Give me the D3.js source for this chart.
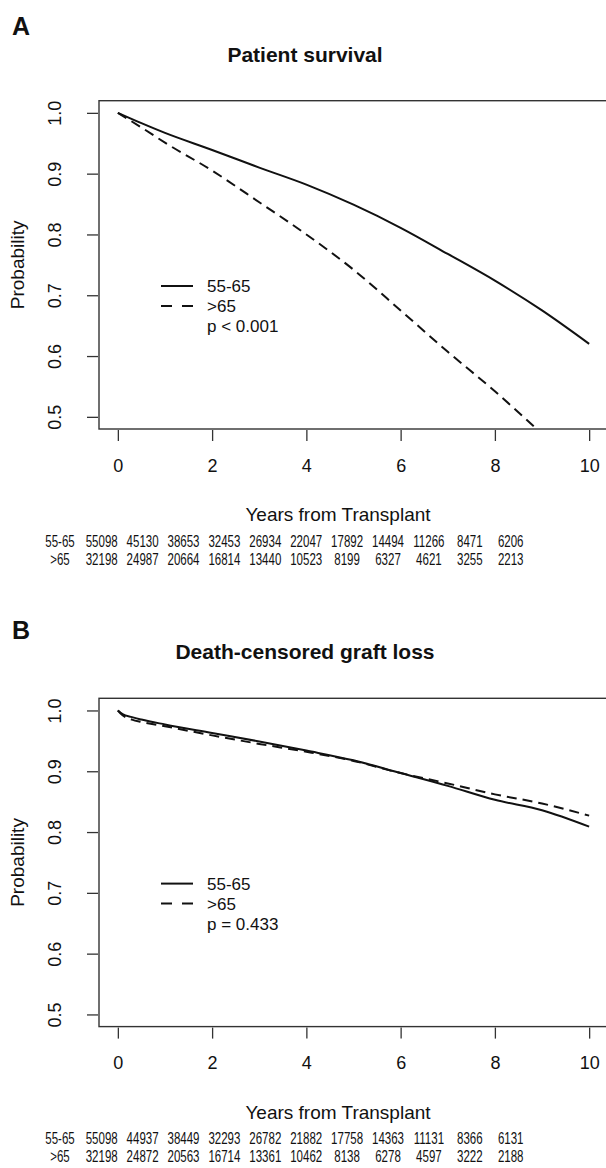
<!DOCTYPE html>
<html>
<head>
<meta charset="utf-8">
<script src="https://cdn.jsdelivr.net/npm/d3@7"></script>
<style>
  body { margin: 0; background: #fff; }
  svg { display: block; font-family: "Liberation Sans", Arial, sans-serif; }
</style>
</head>
<body>
<svg width="606" height="1168"></svg>
<script>
// ---- data ----
const groups = ["55-65", ">65"];
const xTicks = [0, 2, 4, 6, 8, 10];
const yTicks = [0.5, 0.6, 0.7, 0.8, 0.9, 1.0];

// panel A: patient survival
const survTimeYoung = [0, 0.5, 1, 2, 3, 4, 5, 6, 7, 8, 9, 10];
const survYoung     = [1.0, 0.983, 0.967, 0.939, 0.910, 0.882, 0.849, 0.811, 0.768, 0.724, 0.675, 0.620];
const survTimeOld   = [0, 0.5, 1, 2, 3, 4, 5, 6, 7, 8, 9];
const survOld       = [1.0, 0.976, 0.951, 0.905, 0.853, 0.800, 0.742, 0.675, 0.607, 0.542, 0.472];
const riskSurvYoung = [55098, 45130, 38653, 32453, 26934, 22047, 17892, 14494, 11266, 8471, 6206];
const riskSurvOld   = [32198, 24987, 20664, 16814, 13440, 10523, 8199, 6327, 4621, 3255, 2213];

// panel B: death-censored graft loss
const graftTime     = [0, 0.1, 0.3, 0.5, 1, 2, 3, 4, 5, 6, 7, 8, 9, 10];
const graftYoung    = [1.0, 0.994, 0.989, 0.985, 0.977, 0.963, 0.949, 0.934, 0.918, 0.897, 0.876, 0.853, 0.836, 0.809];
const graftOld      = [1.0, 0.992, 0.985, 0.981, 0.974, 0.959, 0.945, 0.932, 0.917, 0.897, 0.880, 0.862, 0.847, 0.827];
const riskGraftYoung = [55098, 44937, 38449, 32293, 26782, 21882, 17758, 14363, 11131, 8366, 6131];
const riskGraftOld   = [32198, 24872, 20563, 16714, 13361, 10462, 8138, 6278, 4597, 3222, 2188];

const svg = d3.select("svg");
const ink = "#111";

const x = d3.scaleLinear().domain([-0.4, 10.4]).range([99, 608]);
const col = d3.scalePoint().domain(d3.range(11)).range([101.7, 510.7]);

function drawPanel(opt) {
  const g = svg.append("g").attr("transform", `translate(0,${opt.dy})`);
  const y = d3.scaleLinear().domain([0.48, 1.02]).range([429, 100.7]);

  // panel letter + title
  g.append("text").attr("x", 12).attr("y", opt.letterY)
    .style("font-size", "25px").style("font-weight", "bold").attr("fill", ink)
    .text(opt.letter);
  g.append("text").attr("x", 305).attr("y", 61.5).attr("text-anchor", "middle")
    .style("font-size", "21px").style("font-weight", "bold").attr("fill", ink)
    .text(opt.title);

  // box
  g.append("rect").attr("x", x.range()[0]).attr("y", y.range()[1])
    .attr("width", x.range()[1] - x.range()[0]).attr("height", y.range()[0] - y.range()[1])
    .attr("fill", "none").attr("stroke", "#333").attr("stroke-width", 1.4);

  // axes (ticks outside the box, no domain line)
  const xa = g.append("g").attr("transform", `translate(0,${y.range()[0] + 1})`)
    .call(d3.axisBottom(x).tickValues(xTicks).tickSize(11).tickPadding(18).tickFormat(d3.format("d")));
  const ya = g.append("g").attr("transform", `translate(${x.range()[0] - 1},0)`)
    .call(d3.axisLeft(y).tickValues(yTicks).tickSize(11).tickPadding(0).tickFormat(d3.format(".1f")));
  [xa, ya].forEach(a => {
    a.select(".domain").remove();
    a.selectAll("line").attr("stroke", "#333").attr("stroke-width", 1.3);
    a.selectAll("text").attr("fill", ink).style("font-size", "18px")
      .style("font-family", "'Liberation Sans', Arial, sans-serif");
  });
  ya.selectAll("text")
    .attr("x", 0).attr("dy", null)
    .attr("text-anchor", "middle")
    .attr("transform", "translate(-37,0) rotate(-90)");
  xa.selectAll("text").attr("dy", "0.71em");

  g.append("text").attr("transform", `translate(24,${(y.range()[0] + y.range()[1]) / 2}) rotate(-90)`)
    .attr("text-anchor", "middle").style("font-size", "19px").attr("fill", ink)
    .text("Probability");
  g.append("text").attr("x", 338).attr("y", 521).attr("text-anchor", "middle")
    .style("font-size", "19px").attr("fill", ink)
    .text("Years from Transplant");

  // curves, clipped to plot region
  const clipId = "clip" + opt.letter;
  g.append("clipPath").attr("id", clipId).append("rect")
    .attr("x", x.range()[0]).attr("y", y.range()[1])
    .attr("width", x.range()[1] - x.range()[0]).attr("height", y.range()[0] - y.range()[1]);

  const line = d3.line().x(d => x(d[0])).y(d => y(d[1])).curve(d3.curveMonotoneX);
  const curves = g.append("g").attr("clip-path", `url(#${clipId})`);
  opt.series.forEach((s, i) => {
    curves.append("path")
      .datum(d3.zip(s.t, s.v))
      .attr("fill", "none").attr("stroke", ink).attr("stroke-width", 2)
      .attr("stroke-dasharray", i === 1 ? "10,6" : null)
      .attr("d", line);
  });

  // legend
  const leg = g.append("g");
  groups.forEach((name, i) => {
    leg.append("line").attr("x1", 161).attr("x2", 193)
      .attr("y1", 286 + i * 20).attr("y2", 286 + i * 20)
      .attr("stroke", ink).attr("stroke-width", 2)
      .attr("stroke-dasharray", i === 1 ? "11,10" : null);
    leg.append("text").attr("x", 207).attr("y", 292 + i * 20)
      .style("font-size", "17px").attr("fill", ink).text(name);
  });
  leg.append("text").attr("x", 207).attr("y", 332)
    .style("font-size", "17px").attr("fill", ink).text(opt.pval);

  // numbers at risk
  const rows = [opt.risk[0], opt.risk[1]];
  rows.forEach((vals, r) => {
    const yy = 546.5 + r * 18;
    g.append("text")
      .attr("transform", `translate(60,${yy}) scale(0.72,1)`)
      .attr("text-anchor", "middle").style("font-size", "16px").attr("fill", ink)
      .text(groups[r]);
    g.selectAll(null).data(vals).join("text")
      .attr("transform", (d, i) => `translate(${col(i)},${yy}) scale(0.72,1)`)
      .attr("text-anchor", "middle").style("font-size", "16px").attr("fill", ink)
      .text(d => d);
  });
}

drawPanel({
  dy: 0, letter: "A", letterY: 35, title: "Patient survival", pval: "p < 0.001",
  series: [{t: survTimeYoung, v: survYoung}, {t: survTimeOld, v: survOld}],
  risk: [riskSurvYoung, riskSurvOld]
});
drawPanel({
  dy: 597.6, letter: "B", letterY: 41.7, title: "Death-censored graft loss", pval: "p = 0.433",
  series: [{t: graftTime, v: graftYoung}, {t: graftTime, v: graftOld}],
  risk: [riskGraftYoung, riskGraftOld]
});
</script>
</body>
</html>
